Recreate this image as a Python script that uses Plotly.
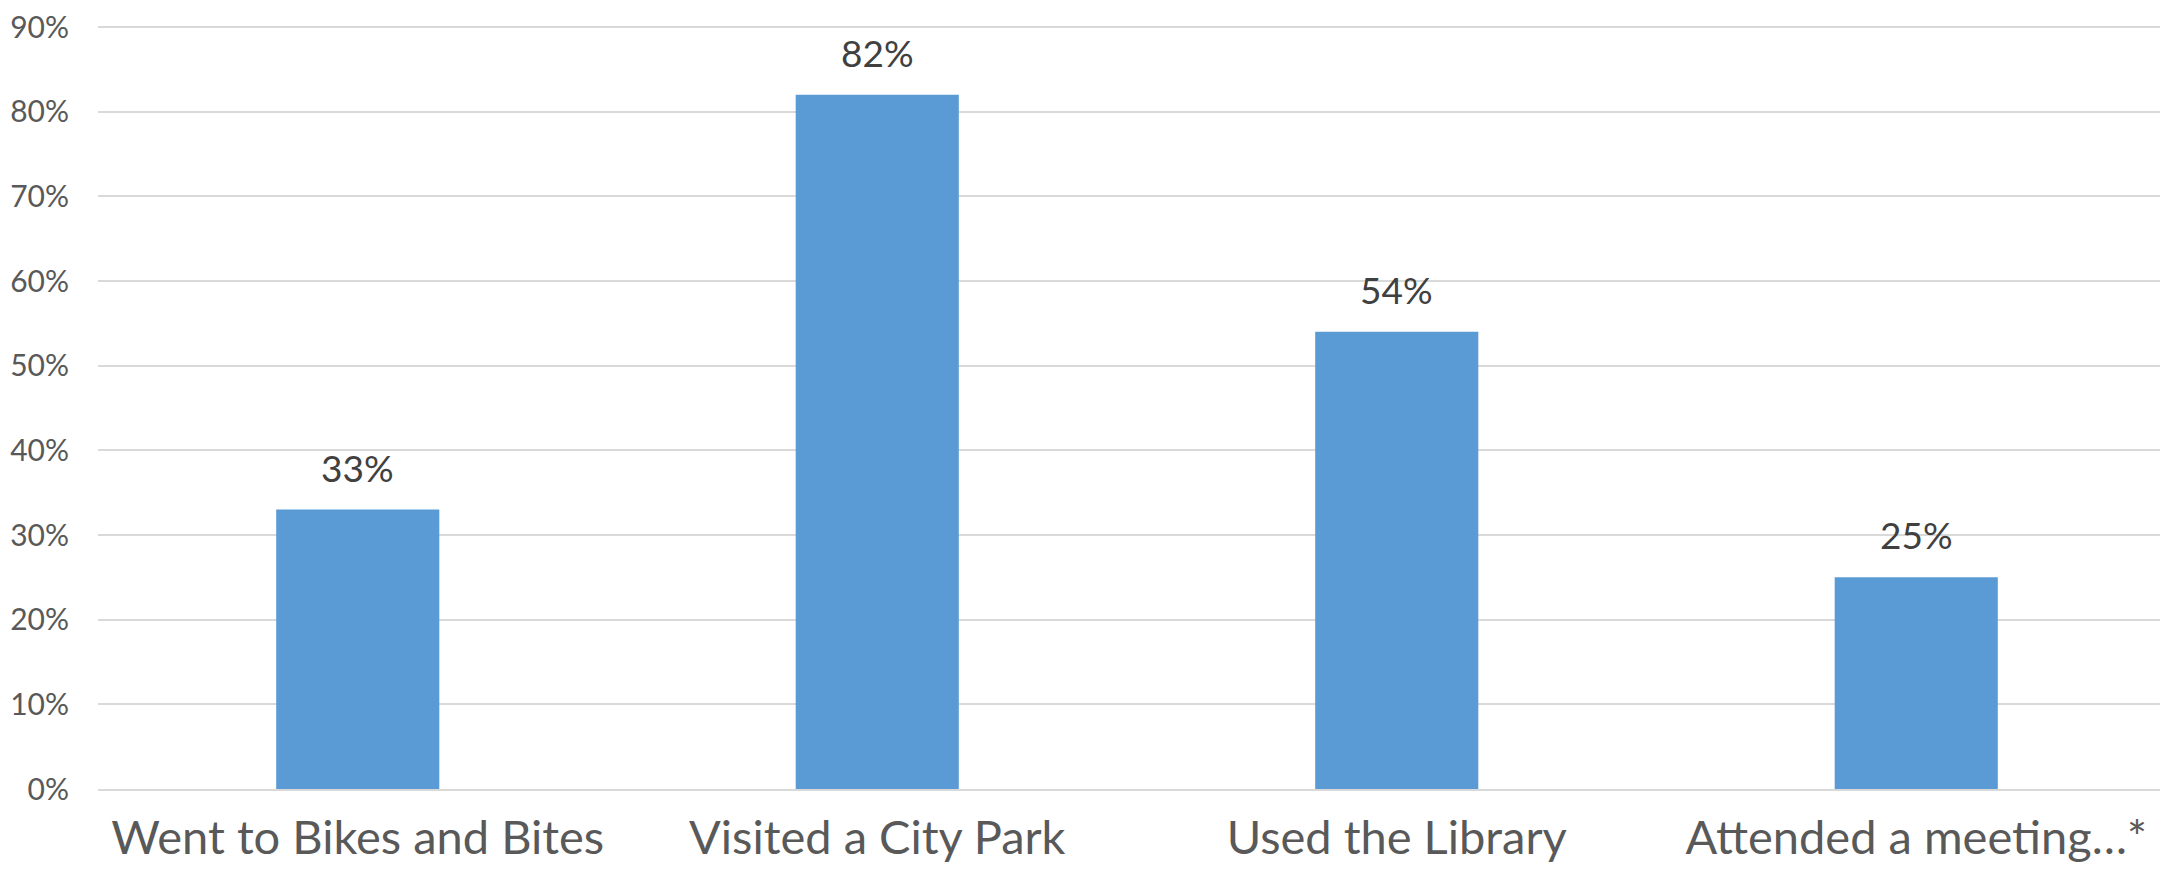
import plotly.graph_objects as go

categories = ["Went to Bikes and Bites", "Visited a City Park", "Used the Library", "Attended a meeting…*"]
values = [0.33, 0.82, 0.54, 0.25]
tick_vals = [0, 0.1, 0.2, 0.3, 0.4, 0.5, 0.6, 0.7, 0.8, 0.9]
tick_text = ["0%", "10%", "20%", "30%", "40%", "50%", "60%", "70%", "80%", "90%"]

FONT = "Lato"

fig = go.Figure()
fig.add_trace(go.Bar(
    x=categories, y=values,
    marker=dict(color="#5B9BD5", line=dict(width=0)),
    width=0.314,
    hoverinfo="skip",
))

for c, v in zip(categories, values):
    fig.add_annotation(x=c, y=v, text=f"{round(v*100)}%", showarrow=False,
                       yanchor="bottom", yshift=18,
                       font=dict(family=FONT, size=37, color="#404040"))

fig.update_layout(
    width=2168, height=870,
    margin=dict(l=90, r=0, t=18, b=89),
    paper_bgcolor="white", plot_bgcolor="white",
    showlegend=False,
    xaxis=dict(showgrid=False, showline=True, linecolor="#D9D9D9", linewidth=2,
               ticks="outside", ticklen=7, tickcolor="rgba(0,0,0,0)",
               automargin=False,
               tickfont=dict(family=FONT, size=47, color="#595959")),
    yaxis=dict(range=[0, 0.9012], tickvals=tick_vals, ticktext=tick_text,
               showgrid=True, gridcolor="#D9D9D9", gridwidth=2,
               zeroline=False, showline=False, ticklabelstandoff=28,
               ticklabeloverflow="allow", automargin=False,
               tickfont=dict(family=FONT, size=30, color="#595959")),
)

fig.write_html("out.html")
